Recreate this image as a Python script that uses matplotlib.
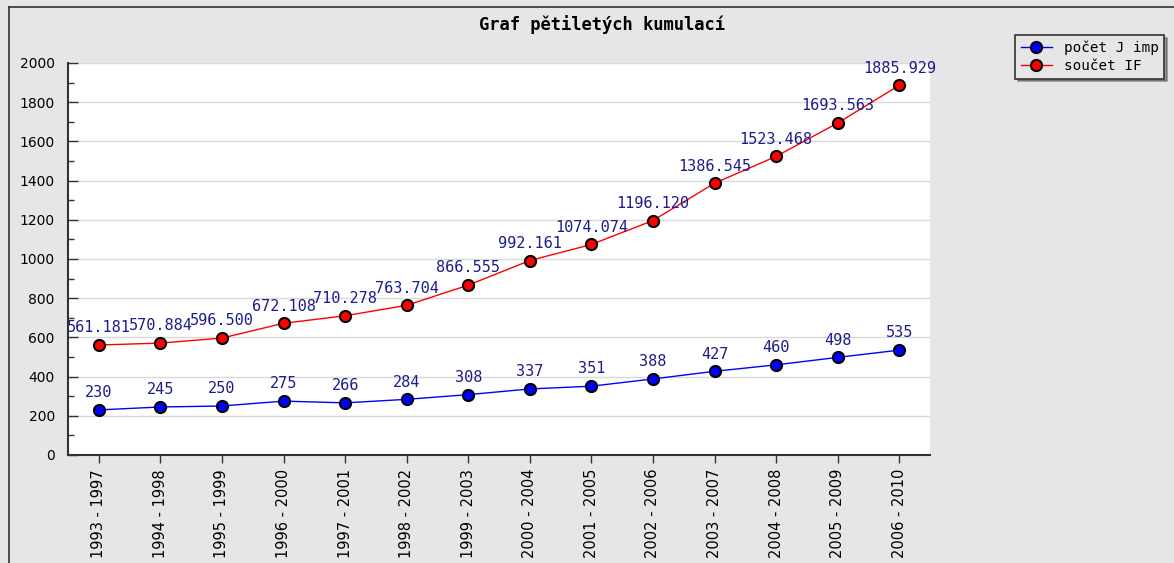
import matplotlib

matplotlib.use("Agg")
import matplotlib.pyplot as plt
from matplotlib.lines import Line2D

# ---- data -----------------------------------------------------------------
periods = [
    "1993 - 1997", "1994 - 1998", "1995 - 1999", "1996 - 2000", "1997 - 2001",
    "1998 - 2002", "1999 - 2003", "2000 - 2004", "2001 - 2005", "2002 - 2006",
    "2003 - 2007", "2004 - 2008", "2005 - 2009", "2006 - 2010",
]
pocet_j_imp = [230, 245, 250, 275, 266, 284, 308, 337, 351, 388, 427, 460, 498, 535]
soucet_if = [561.181, 570.884, 596.500, 672.108, 710.278, 763.704, 866.555,
             992.161, 1074.074, 1196.120, 1386.545, 1523.468, 1693.563, 1885.929]
series_labels = ["počet J imp", "součet IF"]
title = "Graf pětiletých kumulací"

BG = "#e6e6e6"
LABEL_COLOR = "#1c1c8c"
MONO = "DejaVu Sans Mono"

fig = plt.figure(figsize=(11.74, 5.63), dpi=100, facecolor=BG)

# dark frame on the left and top edge only
fig.add_artist(Line2D([9 / 1174, 9 / 1174], [0, 1 - 7 / 563], color="#333333", lw=1.2,
                      transform=fig.transFigure))
fig.add_artist(Line2D([9 / 1174, 1.01], [1 - 7 / 563, 1 - 7 / 563], color="#333333", lw=1.2,
                      transform=fig.transFigure))

ax = fig.add_axes([68 / 1174, 1 - 455 / 563, (930 - 68) / 1174, (455 - 63) / 563])
ax.set_facecolor("white")

x = list(range(len(periods)))

ax.plot(x, pocet_j_imp, color="blue", lw=1, marker="o", markersize=8,
        markerfacecolor="blue", markeredgecolor="black", markeredgewidth=1.5,
        zorder=3, label=series_labels[0])
ax.plot(x, soucet_if, color="red", lw=1, marker="o", markersize=8,
        markerfacecolor="red", markeredgecolor="black", markeredgewidth=1.5,
        zorder=3, label=series_labels[1])

for xi, v in zip(x, pocet_j_imp):
    ax.annotate(f"{v}", (xi, v), xytext=(0, 7), textcoords="offset points",
                ha="center", va="bottom", color=LABEL_COLOR, fontsize=11,
                family=MONO, zorder=4)
for xi, v in zip(x, soucet_if):
    ax.annotate(f"{v:.3f}", (xi, v), xytext=(0, 7), textcoords="offset points",
                ha="center", va="bottom", color=LABEL_COLOR, fontsize=11,
                family=MONO, zorder=4)

ax.set_xlim(-0.5, len(periods) - 0.5)
ax.set_ylim(0, 2000)
ax.set_yticks(range(0, 2001, 200))
ax.set_yticks(range(100, 2000, 200), minor=True)
ax.yaxis.grid(True, color="#d9d9d9", lw=1)
ax.set_axisbelow(True)

ax.set_xticks(x)
ax.set_xticklabels(periods, rotation=90, fontsize=10.5)
ax.tick_params(axis="y", which="both", direction="in", labelsize=10, width=1,
               color="#333333", pad=9.5)
ax.tick_params(axis="y", which="major", length=7)
ax.tick_params(axis="y", which="minor", length=4)
ax.tick_params(axis="x", length=6, width=1, color="#333333", pad=4)

for side in ("top", "right"):
    ax.spines[side].set_visible(False)
for side in ("left", "bottom"):
    ax.spines[side].set_color("#333333")
    ax.spines[side].set_linewidth(1.5)

fig.text(602 / 1174, 1 - 25 / 563, title, ha="center", va="center",
         fontsize=12.3, fontweight="bold", family=MONO)

leg = fig.legend(loc="upper left", bbox_to_anchor=(1015 / 1174, 1 - 35 / 563),
                 prop={"family": MONO, "size": 10.3}, frameon=True, fancybox=False,
                 shadow=True, framealpha=1, borderpad=0.4, handlelength=2.2,
                 labelspacing=0.25, borderaxespad=0)
leg.get_frame().set_edgecolor("#333333")
leg.get_frame().set_facecolor(BG)
leg.get_frame().set_linewidth(1.2)

fig.savefig("out.png", dpi=100, facecolor=BG)
